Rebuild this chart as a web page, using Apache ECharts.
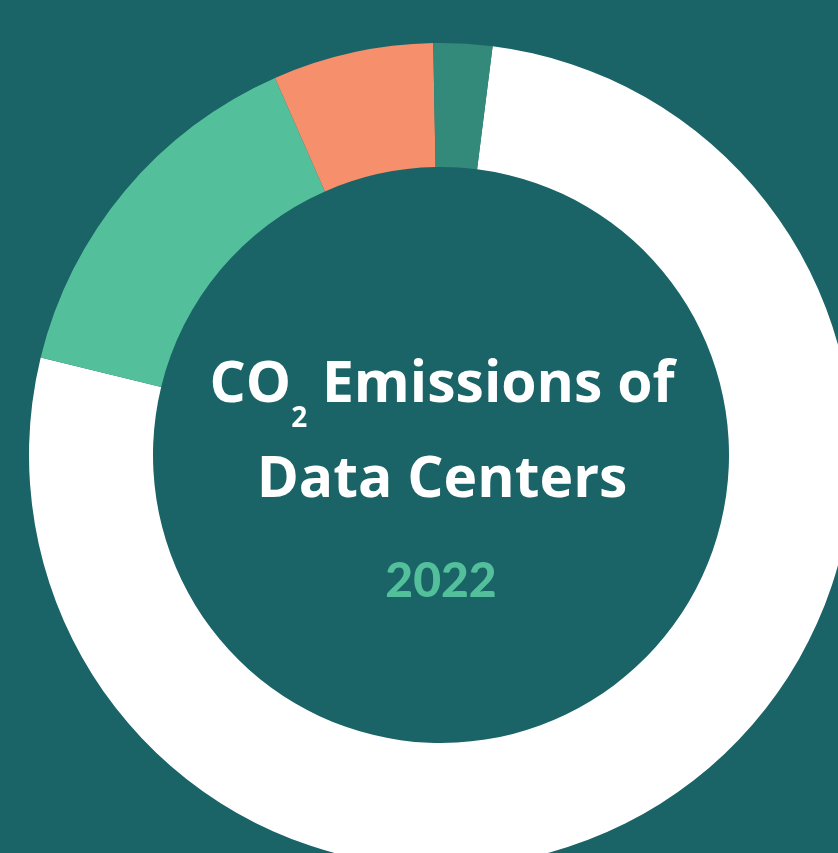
<!DOCTYPE html>
<html>
<head>
<meta charset="utf-8">
<script src="https://cdn.jsdelivr.net/npm/echarts@6/dist/echarts.min.js"></script>
<style>
html,body{margin:0;padding:0;background:#1a6367;}
#chart{width:838px;height:853px;}
</style>
</head>
<body>
<div id="chart"></div>
<script>
// Data (shares of the ring, in percent)
var categories = ['Largest share', 'Second share', 'Third share', 'Smallest share'];
var shareValues = [76.8, 14.6, 6.3, 2.3];
var sliceColors = ['#ffffff', '#53c09b', '#f58f6c', '#338a7a'];
var titleLine1 = ['CO', '2', ' Emissions of'];
var titleLine2 = 'Data Centers';
var yearLabel = '2022';

var chart = echarts.init(document.getElementById('chart'), null, {renderer: 'canvas'});

var pieData = categories.map(function (name, i) {
  return {name: name, value: shareValues[i], itemStyle: {color: sliceColors[i]}};
});

var option = {
  backgroundColor: '#1a6367',
  animation: false,
  series: [{
    type: 'pie',
    center: [441, 455],
    radius: [288, 412],
    startAngle: 82.8,
    clockwise: true,
    silent: true,
    label: {show: false},
    labelLine: {show: false},
    emphasis: {disabled: true},
    itemStyle: {borderWidth: 0},
    data: pieData
  }],
  graphic: [
    {
      type: 'text',
      x: 442,
      y: 338,
      silent: true,
      style: {
        text: '{a|' + titleLine1[0] + '}{s|' + titleLine1[1] + '}{a|' + titleLine1[2] + '}\n{a|' + titleLine2 + '}',
        align: 'center',
        verticalAlign: 'top',
        rich: {
          a: {fontFamily: 'Open Sans', fontWeight: 'bold', fontSize: 57, lineHeight: 95, fill: '#ffffff', color: '#ffffff'},
          s: {fontFamily: 'Open Sans', fontWeight: 'bold', fontSize: 28, lineHeight: 44, verticalAlign: 'bottom', fill: '#ffffff', color: '#ffffff'}
        }
      }
    },
    {
      type: 'text',
      x: 441,
      y: 582,
      silent: true,
      style: {
        text: yearLabel,
        align: 'center',
        verticalAlign: 'middle',
        fontFamily: 'Lato',
        fontWeight: 900,
        fontSize: 48,
        fill: '#53c09b'
      }
    }
  ]
};
chart.setOption(option);
</script>
</body>
</html>
